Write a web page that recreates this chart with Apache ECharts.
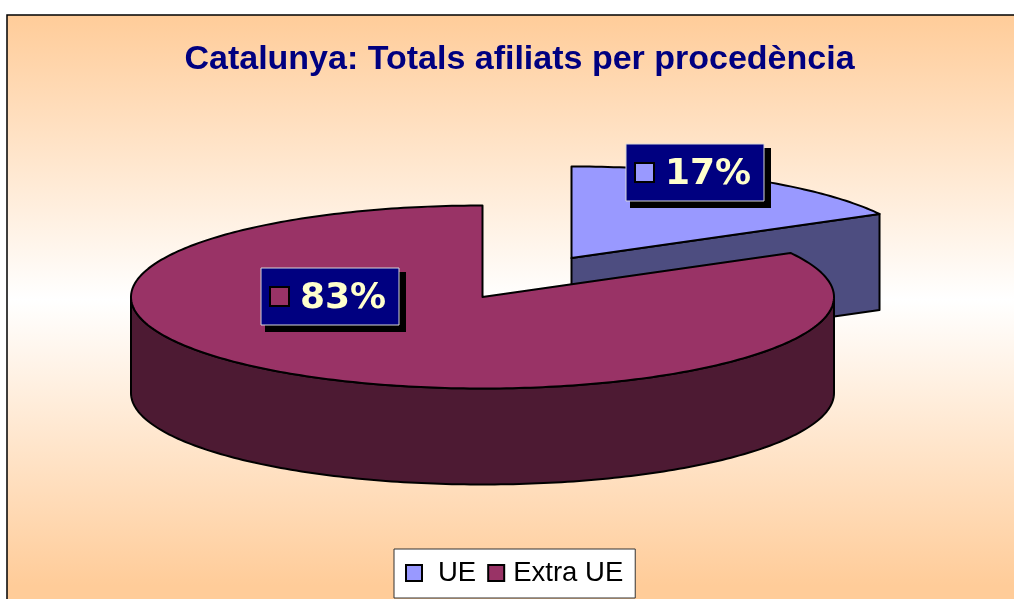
<!DOCTYPE html>
<html>
<head>
<meta charset="utf-8">
<style>
  html, body { margin: 0; padding: 0; background: #fff; }
  #chart { width: 1014px; height: 599px; }
</style>
</head>
<body>
<div id="chart"></div>
<script src="https://cdn.jsdelivr.net/npm/echarts@6/dist/echarts.min.js"></script>
<script>
const categories = ['UE', 'Extra UE']
const values = [17, 83]

const topColors = ['#9999FF', '#993366']
const sideColors = ['#4D4D80', '#4D1A33']

// pie geometry, the 3d look is faked with an ellipse and a fixed depth
const cx = 482.5
const cy = 297
const rx = 351.5
const ry = 91.5
const depth = 96
const offsets = [[89, -39], [0, 0]]
const labelBoxes = [[626, 144], [261, 268]]

const total = values.reduce((a, b) => a + b, 0)
const rad = deg => deg * Math.PI / 180

const rimPoint = (ox, oy, deg, down) => [
  ox + rx * Math.sin(rad(deg)),
  oy - ry * Math.cos(rad(deg)) + (down || 0),
]

const arcPoints = (ox, oy, from, to, down) => {
  const pts = []
  const n = Math.max(2, Math.ceil(to - from))
  for (let i = 0; i <= n; i++) {
    pts.push(rimPoint(ox, oy, from + (to - from) * i / n, down))
  }
  return pts
}

const edgeStyle = fill => ({ fill, stroke: '#000', lineWidth: 2, lineJoin: 'round' })

const renderSlice = idx => (params, api) => {
  const value = api.value(0)
  const before = values.slice(0, idx).reduce((a, b) => a + b, 0)
  const start = before / total * 360
  const end = start + value / total * 360
  const ox = cx + offsets[idx][0]
  const oy = cy + offsets[idx][1]
  const children = []

  // cut faces, only the ones that look to the viewer
  const cutFace = deg => {
    const p = rimPoint(ox, oy, deg)
    children.push({
      type: 'polygon',
      shape: { points: [[ox, oy], p, [p[0], p[1] + depth], [ox, oy + depth]] },
      style: edgeStyle(sideColors[idx]),
    })
  }
  if (end < 180) cutFace(end)
  if (start > 180) cutFace(start)

  // front part of the rim
  const from = Math.max(start, 90)
  const to = Math.min(end, 270)
  if (to > from) {
    children.push({
      type: 'polygon',
      shape: {
        points: arcPoints(ox, oy, from, to).concat(arcPoints(ox, oy, from, to, depth).reverse()),
      },
      style: edgeStyle(sideColors[idx]),
    })
  }

  // top face
  children.push({
    type: 'polygon',
    shape: { points: [[ox, oy]].concat(arcPoints(ox, oy, start, end)) },
    style: edgeStyle(topColors[idx]),
  })

  // data label
  const bx = labelBoxes[idx][0]
  const by = labelBoxes[idx][1]
  children.push(
    { type: 'rect', shape: { x: bx + 4, y: by + 4, width: 141, height: 60 }, style: { fill: '#000' } },
    {
      type: 'rect',
      shape: { x: bx, y: by, width: 138, height: 57 },
      style: { fill: '#000080', stroke: '#D8D8D8', lineWidth: 1 },
    },
    {
      type: 'rect',
      shape: { x: bx + 9, y: by + 19, width: 19, height: 19 },
      style: { fill: topColors[idx], stroke: '#000', lineWidth: 2 },
    },
    {
      type: 'text',
      x: bx + 39,
      y: by + 31,
      style: {
        text: Math.round(value / total * 100) + '%',
        fill: '#FFFFCC',
        font: 'bold 36px "DejaVu Sans"',
        verticalAlign: 'middle',
      },
    }
  )
  return { type: 'group', children }
}

const chart = echarts.init(document.getElementById('chart'))
chart.setOption({
  animation: false,
  backgroundColor: '#fff',
  graphic: [
    {
      type: 'rect',
      z: -1,
      // runs past the bottom and right edge of the page, those borders are cut off
      shape: { x: 7, y: 15, width: 1030, height: 600 },
      style: {
        fill: new echarts.graphic.LinearGradient(0, 0, 0, 1, [
          { offset: 0, color: '#FFCC99' },
          { offset: 0.475, color: '#FFFFFF' },
          { offset: 0.95, color: '#FFCC99' },
          { offset: 1, color: '#FFCC99' },
        ]),
        stroke: '#000',
        lineWidth: 1.5,
      },
    },
  ],
  title: {
    text: 'Catalunya: Totals afiliats per procedència',
    left: 514.5,
    top: 38,
    textAlign: 'center',
    textStyle: {
      color: '#000080',
      fontFamily: '"Liberation Sans"',
      fontWeight: 'bold',
      fontSize: 34,
    },
  },
  legend: {
    data: categories,
    left: 394,
    top: 549,
    orient: 'horizontal',
    backgroundColor: '#fff',
    borderColor: '#333',
    borderWidth: 1,
    borderRadius: 0,
    padding: [10, 12, 11, 11],
    itemWidth: 16,
    itemHeight: 16,
    itemGap: 11,
    icon: 'rect',
    itemStyle: { borderColor: '#000', borderWidth: 2 },
    formatter: name => (name === 'UE' ? '{ue|' + name + '}' : '{extra|' + name + '}'),
    textStyle: {
      color: '#000',
      fontFamily: '"Liberation Sans"',
      fontSize: 27.5,
      rich: {
        ue: { fontFamily: '"Liberation Sans"', fontSize: 27.5, padding: [0, 0, 0, 11] },
        extra: { fontFamily: '"Liberation Sans"', fontSize: 27.5, padding: [0, 0, 0, 4] },
      },
    },
  },
  series: categories.map((name, i) => ({
    type: 'custom',
    name,
    coordinateSystem: 'none',
    silent: true,
    itemStyle: { color: topColors[i] },
    renderItem: renderSlice(i),
    data: [[values[i]]],
  })),
})
</script>
</body>
</html>
